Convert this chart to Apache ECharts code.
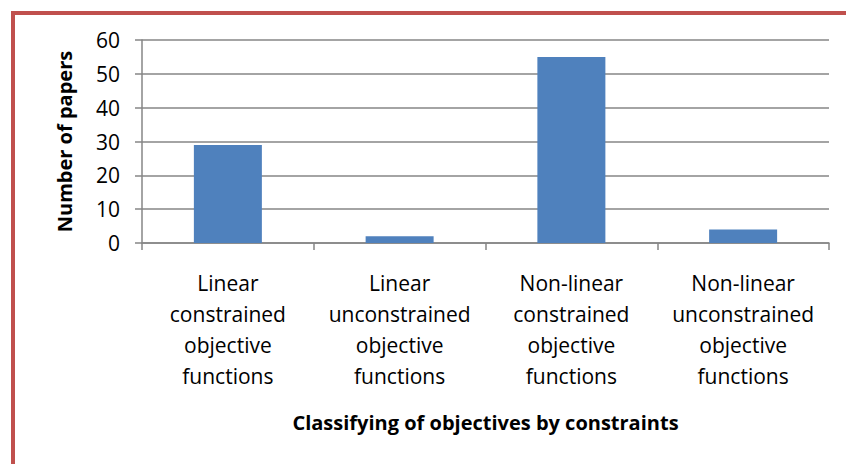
<!DOCTYPE html>
<html>
<head>
<meta charset="utf-8">
<script src="https://cdn.jsdelivr.net/npm/echarts@6/dist/echarts.min.js"></script>
<style>
  html, body { margin: 0; padding: 0; background: #fff; }
  #frame { position: absolute; left: 11px; top: 11px; right: 0; bottom: 0;
           border-top: 4px solid #C0504D; border-left: 4px solid #C0504D; }
  #chart { position: absolute; left: 0; top: 0; width: 846px; height: 464px; }
</style>
</head>
<body>
<div id="frame"></div>
<div id="chart"></div>
<script>
(function() {
  var categories = [
    'Linear\nconstrained\nobjective\nfunctions',
    'Linear\nunconstrained\nobjective\nfunctions',
    'Non-linear\nconstrained\nobjective\nfunctions',
    'Non-linear\nunconstrained\nobjective\nfunctions'
  ];
  var papers = [29, 2, 55, 4];

  var axisGray = '#868686';
  var barBlue = '#4F81BD';
  var font = '"Open Sans", sans-serif';

  var chart = echarts.init(document.getElementById('chart'), null, { renderer: 'svg' });
  chart.setOption({
    animation: false,
    textStyle: { fontFamily: font },
    grid: { left: 142, right: 17, top: 40, bottom: 221 },
    xAxis: {
      type: 'category',
      data: categories,
      name: 'Classifying of objectives by constraints',
      nameLocation: 'middle',
      nameGap: 169,
      nameTextStyle: { color: '#000', fontSize: 20, fontWeight: 'bold', fontFamily: font },
      axisLine: { lineStyle: { color: axisGray, width: 1.5 } },
      axisTick: { show: true, length: 7, lineStyle: { color: axisGray, width: 1.5 } },
      axisLabel: { color: '#000', fontSize: 21, lineHeight: 31, margin: 24, interval: 0, fontFamily: font }
    },
    yAxis: {
      type: 'value',
      min: 0, max: 60, interval: 10,
      name: 'Number of papers',
      nameLocation: 'middle',
      nameGap: 68,
      nameTextStyle: { color: '#000', fontSize: 20, fontWeight: 'bold', fontFamily: font },
      axisLine: { show: true, lineStyle: { color: axisGray, width: 1.5 } },
      axisTick: { show: true, length: 7, lineStyle: { color: axisGray, width: 1.5 } },
      axisLabel: { color: '#000', fontSize: 21, margin: 22, fontFamily: font },
      splitLine: { lineStyle: { color: axisGray, width: 1.5 } }
    },
    series: [{
      type: 'bar',
      data: papers,
      barWidth: 68,
      itemStyle: { color: barBlue }
    }]
  });
  window.addEventListener('resize', function() { chart.resize(); });
})();
</script>
</body>
</html>
